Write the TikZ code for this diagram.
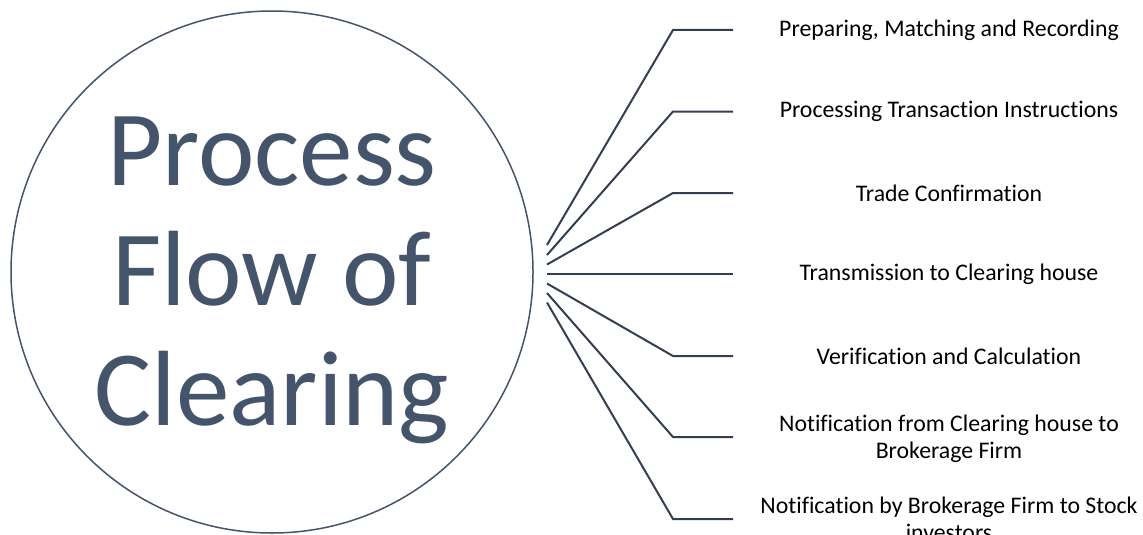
\documentclass[tikz,border=0pt]{standalone}
\usepackage{fontspec}
\setmainfont{Carlito}[Ligatures=CommonOff]
\definecolor{slate}{HTML}{44546A}
\definecolor{wire}{HTML}{333F50}
\begin{document}
\begin{tikzpicture}[x=1pt,y=-1pt,
  hub/.style={circle,draw=slate,line width=1.5pt,minimum size=522pt,inner sep=0pt},
  titletext/.style={text=slate,align=center,inner sep=0pt,font=\fontsize{107}{120}\selectfont},
  branch/.style={draw=wire,line width=2pt},
  stepl/.style={align=center,text=black,inner sep=0pt,font=\fontsize{23.8}{27}\selectfont}]
\useasboundingbox (0,0) rectangle (1143,535);
\clip (0,0) rectangle (1143,535);
\fill[white] (0,0) rectangle (1143,535);
\node[hub] (hub) at (272,272) {};
\node[titletext] (title) at (272,280) {Process\\Flow of\\Clearing};
% fan of connectors from the circle to the step labels
\foreach \i/\sy/\by in {1/245/30, 2/255/111.5, 3/264.5/193, 4/274/274, 5/283.5/356, 6/293/437, 7/302.5/519}{
  \coordinate (s\i) at (547,\sy);
  \coordinate (b\i) at (673,\by);
  \coordinate (e\i) at (733,\by);
}
\node[stepl] (t1) at (949,30) {Preparing, Matching and Recording};
\node[stepl] (t2) at (949,111.5) {Processing Transaction Instructions};
\node[stepl] (t3) at (949,193) {Trade Confirmation};
\node[stepl] (t4) at (949,274) {Transmission to Clearing house};
\node[stepl] (t5) at (949,356) {Verification and Calculation};
\node[stepl] (t6) at (949,439) {Notification from Clearing house to\\Brokerage Firm};
\node[stepl] (t7) at (949,519) {Notification by Brokerage Firm to Stock\\investors};
\foreach \i in {1,...,7}{
  \draw[branch] (s\i) -- (b\i) -- (e\i);
}
\end{tikzpicture}
\end{document}
